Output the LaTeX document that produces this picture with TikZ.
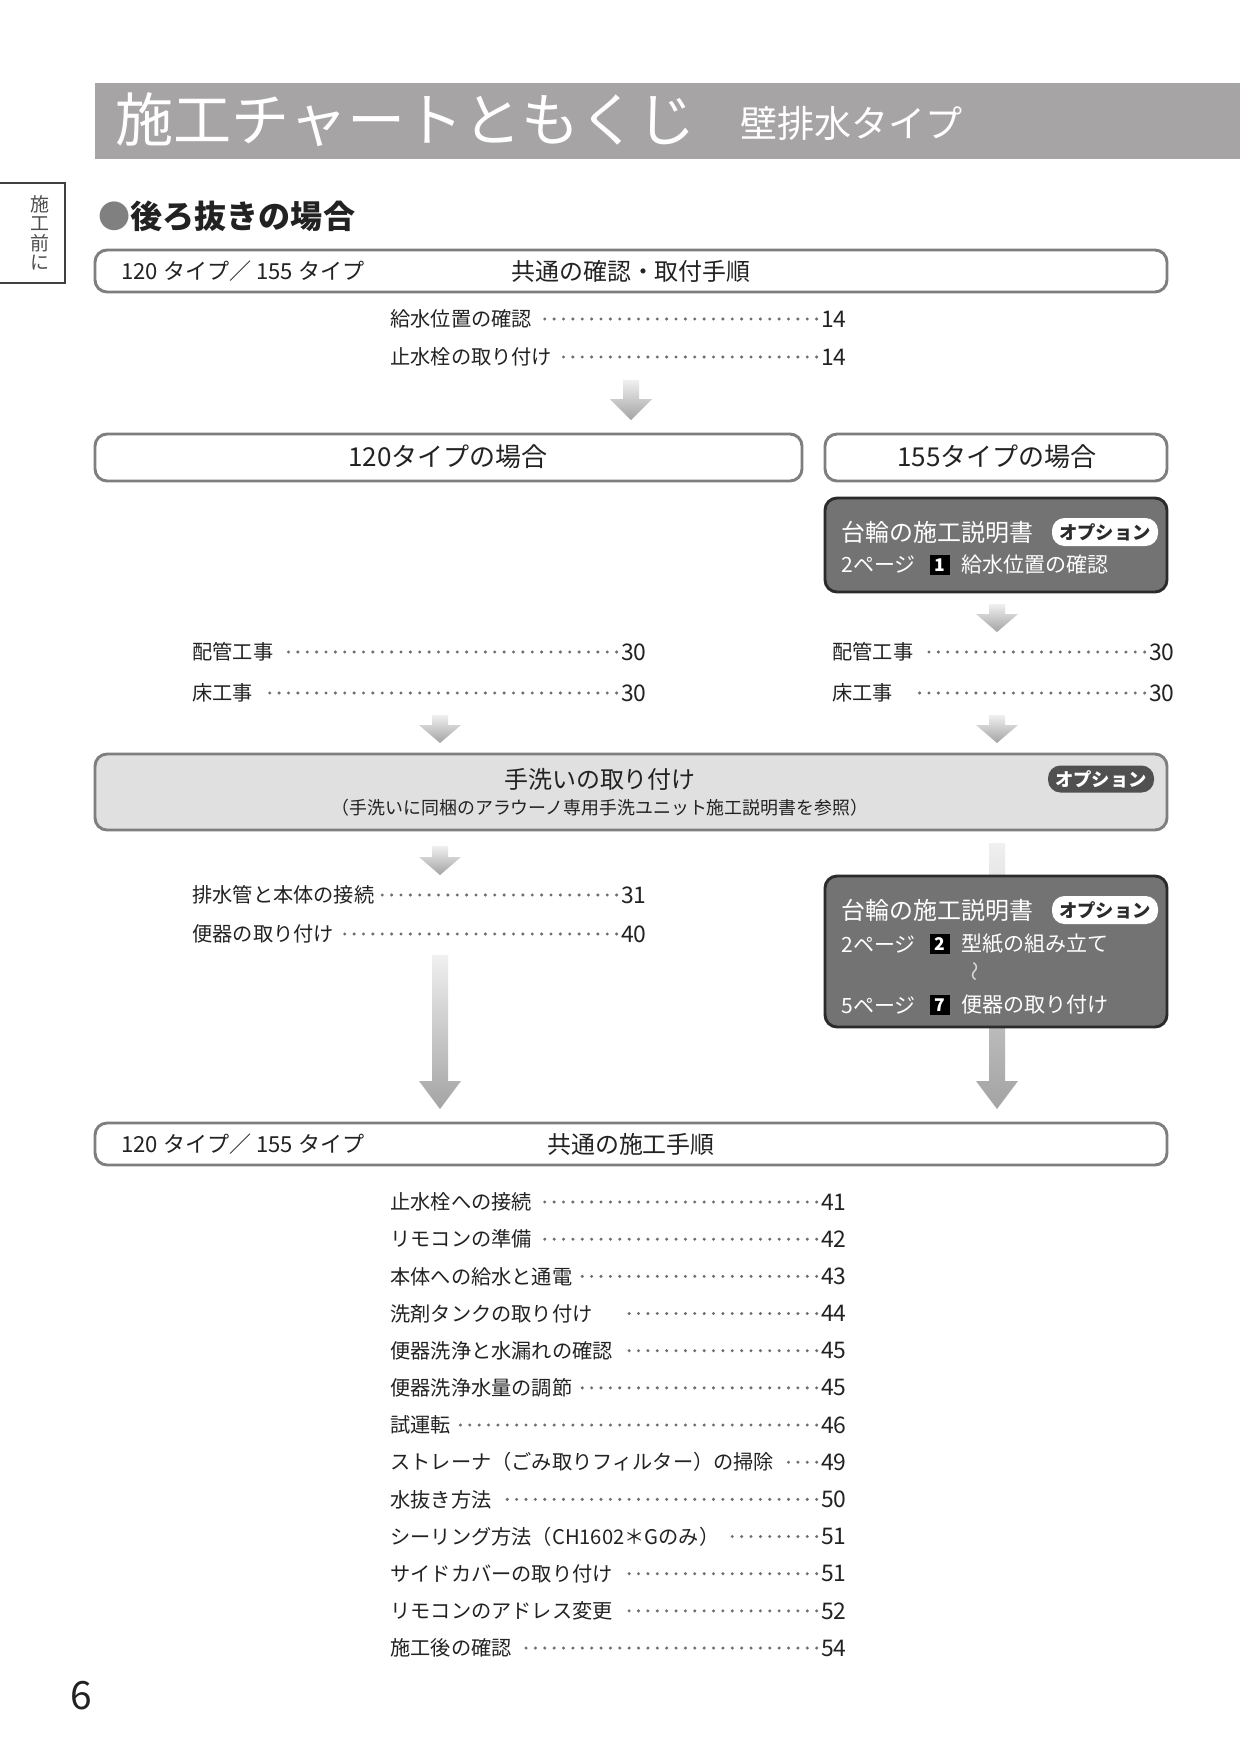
\documentclass[tikz,border=0pt]{standalone}
\usepackage{fontspec}
\setmainfont{Noto Sans CJK JP}
\usetikzlibrary{calc,fit}
\definecolor{barg}{HTML}{A6A4A4}
\definecolor{bord}{HTML}{7E7E7E}
\definecolor{darkf}{HTML}{737373}
\definecolor{darkb}{HTML}{2B2B2B}
\definecolor{lightf}{HTML}{E0E0E0}
\definecolor{txt}{HTML}{222222}
\definecolor{dotc}{HTML}{6E6E6E}
\definecolor{pilldk}{HTML}{505050}
\newcommand\fatarrow[3]{\path[arrowfill] ($(#1)+(-8,0)$) -- ($(#1)+(8,0)$) -- ($(#2)+(8,-#3)$) -- ($(#2)+(21,-#3)$) -- (#2) -- ($(#2)+(-21,-#3)$) -- ($(#2)+(-8,-#3)$) -- cycle;}
\newcommand\tocitem[6]{%
  \node[item, anchor=west] (#1-l) at (#2,#4) {#5};
  \node[itemnum, anchor=east] (#1-n) at (#3,#4) {#6};
  \draw[dots] ($(#1-n.west)+(-3,0)$) -- ($(#1-l.east)+(5,0)$);}
\tikzset{
  hdr/.style={draw=bord, line width=1.4pt, rounded corners=5.8pt, fill=white, inner sep=0pt},
  darkbox/.style={draw=darkb, line width=1.4pt, rounded corners=5.8pt, fill=darkf, inner sep=0pt},
  lightbox/.style={draw=bord, line width=1.4pt, rounded corners=5.8pt, fill=lightf, inner sep=0pt},
  tabbox/.style={draw=black!75, line width=0.7pt, inner sep=0pt},
  item/.style={font=\fontsize{9.7pt}{10pt}\selectfont, text=txt, inner sep=1pt},
  itemnum/.style={font=\fontsize{11pt}{11pt}\selectfont, text=txt, inner sep=0.5pt},
  dots/.style={dotc, line width=1.6pt, line cap=round, dash pattern=on 0pt off 4.5pt},
  arrowfill/.style={top color=gray!12, bottom color=gray!72, draw=none},
  wtext/.style={text=white, inner sep=0pt},
  dtitle/.style={wtext, font=\fontsize{11.5pt}{12pt}\selectfont},
  dline/.style={wtext, font=\fontsize{10.1pt}{11pt}\selectfont},
  pillw/.style={fill=white, rounded corners=6pt, text=darkb, font=\bfseries\fontsize{8.8pt}{9pt}\selectfont, minimum width=106*0.48pt, minimum height=28*0.48pt, inner sep=0pt},
  pilld/.style={fill=pilldk, rounded corners=6pt, text=white, font=\bfseries\fontsize{8.8pt}{9pt}\selectfont, minimum width=106*0.48pt, minimum height=27*0.48pt, inner sep=0pt},
  numsq/.style={fill=black, text=white, minimum size=20*0.48pt, inner sep=0pt, font=\bfseries\fontsize{8.4pt}{9pt}\selectfont},
  boxtxt/.style={text=txt, inner sep=0pt}
}
\begin{document}
\begin{tikzpicture}[x=0.48pt,y=-0.48pt]
\useasboundingbox (0,0) rectangle (1240,1754);
\fill[white] (0,0) rectangle (1240,1754);

% title bar
\node[fill=barg, inner sep=0pt, fit={(95,83) (1240,159)}] (bar) {};
\node[text=white, inner sep=0pt, anchor=west, font=\fontsize{27.9pt}{28pt}\selectfont] (title) at (115,120) {施工チャートともくじ};
\node[text=white, inner sep=0pt, anchor=west, font=\fontsize{17.8pt}{18pt}\selectfont] (subtitle) at (740,123) {壁排水タイプ};

% side tab
\node[tabbox, fit={(-10,183) (65,283)}] (tab) {};
\node[text=black!70, inner sep=0pt, align=center, font=\fontsize{9.1pt}{9.3pt}\selectfont] (tabtxt) at (40,233) {施\\工\\前\\に};

% heading
\node[text=txt, inner sep=0pt, anchor=west, font=\bfseries\fontsize{15.4pt}{16pt}\selectfont] (head) at (98,216) {{\color{gray}●}後ろ抜きの場合};

% arrows (drawn first)
\coordinate (a1s) at (631,380); \coordinate (a1e) at (631,420);
\coordinate (a2s) at (997,604); \coordinate (a2e) at (997,632);
\coordinate (a3s) at (440,715); \coordinate (a3e) at (440,743);
\coordinate (a4s) at (997,715); \coordinate (a4e) at (997,743);
\coordinate (a5s) at (440,846); \coordinate (a5e) at (440,875);
\coordinate (a6s) at (440,955); \coordinate (a6e) at (440,1109);
\coordinate (a7s) at (997,843); \coordinate (a7e) at (997,1109);
\fatarrow{a1s}{a1e}{21}
\fatarrow{a2s}{a2e}{18}
\fatarrow{a3s}{a3e}{18}
\fatarrow{a4s}{a4e}{18}
\fatarrow{a5s}{a5e}{18}
\fatarrow{a6s}{a6e}{28}
\fatarrow{a7s}{a7e}{28}

% common box 1
\node[hdr, fit={(95,250) (1167,292)}] (box1) {};
\node[boxtxt, anchor=west, font=\fontsize{10.6pt}{11pt}\selectfont] (box1l) at (121,271) {120 タイプ／ 155 タイプ};
\node[boxtxt, font=\fontsize{11.5pt}{12pt}\selectfont] (box1c) at (631,271) {共通の確認・取付手順};

\tocitem{t1}{388}{848}{319}{給水位置の確認}{14}
\tocitem{t2}{388}{848}{357}{止水栓の取り付け}{14}

% type boxes
\node[hdr, fit={(95,434) (802,481)}] (box120) {};
\node[boxtxt, font=\fontsize{12.5pt}{13pt}\selectfont] (box120t) at (448,457) {120タイプの場合};
\node[hdr, fit={(825,434) (1167,481)}] (box155) {};
\node[boxtxt, font=\fontsize{12.5pt}{13pt}\selectfont] (box155t) at (997,457) {155タイプの場合};

% dark box 1
\node[darkbox, fit={(825,498) (1167,592)}] (dk1) {};
\node[dtitle, anchor=west] (dk1t) at (841,532) {台輪の施工説明書};
\node[pillw] (dk1p) at (1105,532) {オプション};
\node[dline, anchor=west] (dk1a) at (841,565) {2ページ};
\node[numsq] (dk1n) at (940,565) {1};
\node[dline, anchor=west] (dk1b) at (961,565) {給水位置の確認};

% pipe / floor work
\tocitem{l1}{190}{648}{652}{配管工事}{30}
\tocitem{l2}{190}{648}{693}{床工事}{30}
\tocitem{r1}{830}{1176}{652}{配管工事}{30}
\tocitem{r2}{830}{1176}{693}{床工事\hspace*{5pt}\mbox{}}{30}

% hand wash box
\node[lightbox, fit={(95,754) (1167,830)}] (wash) {};
\node[boxtxt, font=\fontsize{11.5pt}{12pt}\selectfont] (washt) at (600,779) {手洗いの取り付け};
\node[boxtxt, font=\fontsize{8.6pt}{9pt}\selectfont] (washs) at (600,808) {（手洗いに同梱のアラウーノ専用手洗ユニット施工説明書を参照）};
\node[pilld] (washp) at (1101,779) {オプション};

\tocitem{l3}{190}{648}{895}{排水管と本体の接続}{31}
\tocitem{l4}{190}{648}{934}{便器の取り付け}{40}

% dark box 2
\node[darkbox, fit={(825,876) (1167,1027)}] (dk2) {};
\node[dtitle, anchor=west] (dk2t) at (841,910) {台輪の施工説明書};
\node[pillw] (dk2p) at (1105,910) {オプション};
\node[dline, anchor=west] (dk2a) at (841,944) {2ページ};
\node[numsq] (dk2n) at (940,944) {2};
\node[dline, anchor=west] (dk2b) at (961,944) {型紙の組み立て};
\node[text=white!85!black, inner sep=0pt, rotate=90, font=\fontsize{9.5pt}{9.5pt}\selectfont] (dk2w) at (977,972) {～};
\node[dline, anchor=west] (dk2c) at (841,1005) {5ページ};
\node[numsq] (dk2m) at (940,1005) {7};
\node[dline, anchor=west] (dk2d) at (961,1005) {便器の取り付け};

% common box 2
\node[hdr, fit={(95,1123) (1167,1165)}] (box2) {};
\node[boxtxt, anchor=west, font=\fontsize{10.6pt}{11pt}\selectfont] (box2l) at (121,1144) {120 タイプ／ 155 タイプ};
\node[boxtxt, font=\fontsize{11.5pt}{12pt}\selectfont] (box2c) at (631,1144) {共通の施工手順};

\foreach \lab/\num [count=\k] in {止水栓への接続/41, リモコンの準備/42, 本体への給水と通電/43, {洗剤タンクの取り付け\hspace*{12pt}\mbox{}}/44, 便器洗浄と水漏れの確認/45, 便器洗浄水量の調節/45, 試運転/46, ストレーナ（ごみ取りフィルター）の掃除/49, 水抜き方法/50, シーリング方法（CH1602＊Gのみ）/51, サイドカバーの取り付け/51, リモコンのアドレス変更/52, 施工後の確認/54}{
  \pgfmathsetmacro\yy{1202+(\k-1)*37.17}
  \tocitem{b\k}{388}{848}{\yy}{\lab}{\num}
}

% page number
\node[text=txt, inner sep=0pt, font=\fontsize{18.7pt}{19pt}\selectfont] (pagenum) at (81,1696) {6};
\end{tikzpicture}
\end{document}
